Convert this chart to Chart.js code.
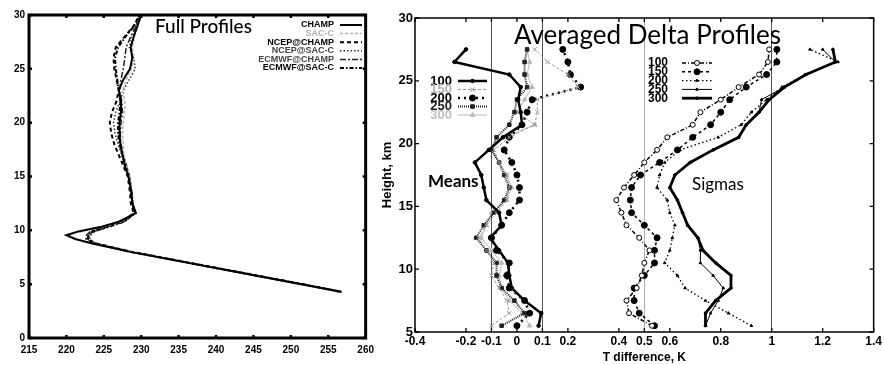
<!DOCTYPE html>
<html>
<head>
<meta charset="utf-8">
<script src="https://cdn.jsdelivr.net/npm/chart.js@4.4.0/dist/chart.umd.min.js"></script>
<style>
  html, body { margin: 0; padding: 0; background: #fff; }
  #wrap { position: relative; width: 884px; height: 365px; }
  #left { position: absolute; left: 0; top: 0; }
  #right { position: absolute; left: 380px; top: 0; }
</style>
</head>
<body>
<div id="wrap">
  <canvas id="left" width="380" height="365" style="width:380px;height:365px"></canvas>
  <canvas id="right" width="504" height="365" style="width:504px;height:365px"></canvas>
</div>
<script>
// ---- left panel: full temperature profiles (K) vs height (km)
const profileNames = ['CHAMP', 'SAC-C', 'NCEP@CHAMP', 'NCEP@SAC-C', 'ECMWF@CHAMP', 'ECMWF@SAC-C'];
const hFull = [4.3, 5, 6, 7, 8, 8.8, 9.2, 9.55, 9.9, 10.3, 10.8, 11.6, 12.5, 13.5, 15, 16, 17, 18, 19, 20, 21, 22, 23, 24, 25, 26, 27, 28, 29, 30];
const tChamp = [256.8, 251.4, 243.8, 236.1, 228.5, 223.3, 221.2, 220, 221.6, 224.5, 227, 229.3, 228.8, 228.7, 228.3, 227.8, 227.5, 227.2, 227.1, 227.1, 227.3, 227.3, 227.0, 227.6, 228.5, 228.8, 228.6, 229, 229.5, 230];
const tSacc = [256.5, 251.2, 243.6, 236.0, 228.4, 223.4, 221.0, 220.2, 222, 224.8, 227.3, 229.2, 228.9, 228.8, 228.5, 228, 227.7, 227.6, 227.5, 227.6, 227.8, 227.8, 227.5, 228.0, 228.7, 229.0, 228.8, 229.1, 229.6, 230];
const tNcepChamp = [256.6, 251.6, 244.0, 236.4, 228.8, 223.8, 222.8, 223.0, 223.5, 225.3, 227.5, 229, 228.6, 228.5, 228.2, 227.6, 227.0, 226.4, 226.0, 225.8, 226.1, 226.7, 227.0, 226.7, 226.4, 226.3, 226.6, 227.8, 229, 229.8];
const tNcepSacc = [256.4, 251.5, 243.9, 236.3, 228.7, 223.9, 223.1, 223.3, 223.8, 225.6, 227.8, 229.2, 228.8, 228.6, 228.3, 227.9, 227.4, 226.9, 226.5, 226.3, 226.6, 227.2, 227.6, 228.4, 229.2, 229.0, 228.4, 228.8, 229.4, 229.9];
const tEcChamp = [256.7, 251.5, 243.9, 236.2, 228.6, 223.6, 222.6, 222.7, 223.2, 225.2, 227.6, 229.1, 228.8, 228.8, 228.4, 228, 227.6, 227.3, 227.2, 227.3, 227.5, 227.4, 227.1, 227.3, 227.6, 227.8, 228, 228.6, 229.3, 229.9];
const tEcSacc = [256.5, 251.4, 243.8, 236.2, 228.6, 223.7, 222.9, 223.0, 223.5, 225.5, 227.7, 229.2, 228.9, 228.7, 228.4, 228, 227.5, 227.1, 226.9, 226.9, 227.1, 227.2, 227.0, 226.8, 226.6, 226.5, 226.9, 227.9, 229.1, 229.8];

// ---- right panel: averaged delta profiles (K) vs height (km)
const binLabels = ['100', '150', '200', '250', '300'];
const hDelta = [5.5, 6.5, 7.5, 8.5, 9.5, 10.5, 11.5, 12.5, 13.5, 14.5, 15.5, 16.5, 17.5, 18.5, 19.5, 20.5, 21.5, 22.5, 23.5, 24.5, 25.5, 26.5, 27.5];
const mean100 = [0.085, 0.095, 0.03, -0.02, -0.03, -0.035, -0.07, -0.105, -0.06, -0.07, -0.12, -0.13, -0.14, -0.165, -0.11, -0.055, 0.02, 0.015, 0.005, 0.015, -0.03, -0.245, -0.2];
const mean150 = [-0.1, -0.03, -0.04, -0.07, -0.1, -0.09, -0.12, -0.15, -0.12, -0.08, -0.04, -0.03, -0.04, -0.07, -0.09, -0.03, 0.07, 0.08, 0.08, 0.24, 0.2, 0.12, 0.07];
const mean200 = [0.0, 0.05, 0.03, -0.03, -0.04, -0.03, -0.08, -0.1, -0.06, -0.03, 0.01, 0.01, 0.0, -0.02, -0.05, -0.03, 0.02, 0.04, 0.06, 0.25, 0.21, 0.2, 0.18];
const mean250 = [-0.06, 0.03, -0.01, -0.06, -0.08, -0.08, -0.12, -0.16, -0.13, -0.09, -0.05, -0.03, -0.05, -0.07, -0.1, -0.08, -0.03, -0.01, 0.0, 0.04, 0.03, 0.03, 0.04];
const mean300 = [0.05, 0.02, -0.03, -0.06, -0.07, -0.06, -0.1, -0.14, -0.12, -0.1, -0.04, -0.02, -0.04, -0.07, -0.1, -0.05, 0.07, 0.0, 0.03, 0.06, 0.04, 0.05, 0.04];
const sig100 = [0.53, 0.44, 0.43, 0.47, 0.49, 0.5, 0.52, 0.48, 0.43, 0.41, 0.39, 0.42, 0.46, 0.5, 0.55, 0.59, 0.69, 0.72, 0.8, 0.87, 0.95, 0.985, 0.99];
const sig150 = [0.54, 0.48, 0.46, 0.46, 0.5, 0.54, 0.54, 0.55, 0.5, 0.45, 0.445, 0.45, 0.485, 0.56, 0.63, 0.69, 0.76, 0.8, 0.835, 0.9, 0.98, 1.02, 1.02];
const sig200 = [0.92, 0.83, 0.74, 0.66, 0.63, 0.58, 0.6, 0.61, 0.62, 0.6, 0.59, 0.55, 0.56, 0.58, 0.64, 0.79, 0.88, 0.92, 0.98, 1.04, 1.13, 1.26, 1.15];
const sig250 = [0.74, 0.76, 0.79, 0.81, 0.77, 0.72, 0.72, 0.71, 0.67, 0.65, 0.63, 0.6, 0.62, 0.68, 0.77, 0.87, 0.9, 0.95, 0.96, 1.05, 1.13, 1.25, 1.2];
const sig300 = [0.74, 0.74, 0.78, 0.84, 0.84, 0.78, 0.73, 0.71, 0.67, 0.65, 0.63, 0.6, 0.62, 0.68, 0.77, 0.87, 0.9, 0.95, 0.99, 1.05, 1.135, 1.25, 1.24];
const xTicksDelta = [-0.4, -0.2, -0.1, 0, 0.1, 0.2, 0.4, 0.5, 0.6, 0.8, 1, 1.2, 1.4];
const refLines = [-0.1, 0.1, 0.5, 1];

const toPoints = (xs, hs) => xs.map((x, i) => ({ x: x, y: hs[i] }));

// frame + inward tick marks, like the printed figure
const frameTicks = {
  id: 'frameTicks',
  afterDatasetsDraw(chart, args, opts) {
    const { ctx, chartArea: a, scales } = chart;
    ctx.save();
    ctx.strokeStyle = '#000';
    ctx.lineWidth = opts.tickWidth || 1.5;
    const len = opts.tickLen || 4;
    scales.x.ticks.forEach(t => {
      const px = scales.x.getPixelForValue(t.value);
      ctx.beginPath();
      ctx.moveTo(px, a.bottom); ctx.lineTo(px, a.bottom - len);
      ctx.moveTo(px, a.top); ctx.lineTo(px, a.top + len);
      ctx.stroke();
    });
    scales.y.ticks.forEach(t => {
      const py = scales.y.getPixelForValue(t.value);
      ctx.beginPath();
      ctx.moveTo(a.left, py); ctx.lineTo(a.left + len, py);
      ctx.moveTo(a.right, py); ctx.lineTo(a.right - len, py);
      ctx.stroke();
    });
    ctx.lineWidth = opts.frameWidth || 1.5;
    ctx.strokeRect(a.left, a.top, a.right - a.left, a.bottom - a.top);
    ctx.restore();
  }
};

// free text labels inside the plot
const freeText = {
  id: 'freeText',
  afterDraw(chart, args, opts) {
    const ctx = chart.ctx;
    (opts.items || []).forEach(it => {
      ctx.save();
      ctx.font = it.font;
      ctx.fillStyle = it.color || '#000';
      ctx.textAlign = it.align || 'left';
      ctx.textBaseline = 'middle';
      ctx.fillText(it.text, it.x, it.y);
      ctx.restore();
    });
  }
};

// legend with text on the left and the line sample on the right
const sideLegend = {
  id: 'sideLegend',
  afterDraw(chart, args, opts) {
    const ctx = chart.ctx;
    (opts.groups || []).forEach(g => {
      g.items.forEach((idx, row) => {
        const ds = chart.data.datasets[idx];
        const y = g.y + row * g.dy;
        ctx.save();
        ctx.font = g.font;
        ctx.fillStyle = ds.labelColor || ds.borderColor;
        ctx.textAlign = 'right';
        ctx.textBaseline = 'middle';
        ctx.fillText(ds.label, g.textRight, y);
        ctx.strokeStyle = ds.borderColor;
        ctx.lineWidth = ds.borderWidth;
        ctx.setLineDash(ds.borderDash || []);
        ctx.beginPath();
        ctx.moveTo(g.x0, y); ctx.lineTo(g.x1, y);
        ctx.stroke();
        ctx.setLineDash([]);
        if (ds.pointRadius) {
          ctx.fillStyle = ds.pointBackgroundColor || ds.borderColor;
          ctx.strokeStyle = ds.pointBorderColor || ds.borderColor;
          ctx.lineWidth = 1;
          Chart.helpers.drawPoint(ctx, { pointStyle: ds.pointStyle, radius: ds.pointRadius, rotation: 0, borderWidth: 1 }, (g.x0 + g.x1) / 2, y);
        }
        ctx.restore();
      });
    });
  }
};

const tickFontL = { family: 'Liberation Sans Narrow, Liberation Sans, Arial', size: 10, weight: 'bold' };

new Chart(document.getElementById('left'), {
  type: 'scatter',
  data: {
    datasets: [
      { label: profileNames[0], data: toPoints(tChamp, hFull), borderColor: '#000', borderWidth: 2 },
      { label: profileNames[1], data: toPoints(tSacc, hFull), borderColor: '#b5b5b5', borderWidth: 1.5, borderDash: [3, 2], labelColor: '#b0b0b0' },
      { label: profileNames[2], data: toPoints(tNcepChamp, hFull), borderColor: '#000', borderWidth: 2, borderDash: [4, 3] },
      { label: profileNames[3], data: toPoints(tNcepSacc, hFull), borderColor: '#333', borderWidth: 1.5, borderDash: [1.5, 2], labelColor: '#444' },
      { label: profileNames[4], data: toPoints(tEcChamp, hFull), borderColor: '#222', borderWidth: 1.5, borderDash: [6, 2, 2, 2], labelColor: '#444' },
      { label: profileNames[5], data: toPoints(tEcSacc, hFull), borderColor: '#000', borderWidth: 2, borderDash: [4, 2, 1.5, 2] }
    ].map(d => ({ ...d, showLine: true, pointRadius: 0, fill: false, tension: 0 }))
  },
  options: {
    responsive: false,
    animation: false,
    devicePixelRatio: 1,
    layout: { padding: { top: 15, right: 11, left: 0, bottom: 0 } },
    scales: {
      x: {
        type: 'linear', min: 215, max: 260,
        ticks: { stepSize: 5, color: '#000', font: tickFontL, padding: 6 },
        grid: { display: false, drawTicks: false }, border: { display: false },
        afterFit: s => { s.height = 27; }
      },
      y: {
        type: 'linear', min: 0, max: 30,
        ticks: { stepSize: 5, color: '#000', font: tickFontL, padding: 4 },
        grid: { display: false, drawTicks: false }, border: { display: false },
        afterFit: s => { s.width = 29; }
      }
    },
    plugins: {
      legend: { display: false },
      tooltip: { enabled: false },
      frameTicks: { frameWidth: 3, tickWidth: 2.5, tickLen: 3 },
      freeText: { items: [
        { text: 'Full Profiles', x: 155, y: 27, font: '500 19px Lato, "Open Sans", sans-serif' }
      ] },
      sideLegend: { groups: [
        { items: [0, 1, 2, 3, 4, 5], y: 25, dy: 8.6, textRight: 334, x0: 340, x1: 362,
          font: 'bold 9px "Liberation Sans Narrow", "Liberation Sans", Arial' }
      ] }
    }
  },
  plugins: [frameTicks, freeText, sideLegend]
});

const tickFontR = { family: 'Liberation Sans, Arial', size: 12, weight: 'bold' };
const meanStyles = [
  { borderColor: '#000', borderWidth: 2.5, pointStyle: 'circle', pointRadius: 1.8 },
  { borderColor: '#9a9a9a', borderWidth: 1, borderDash: [3, 2], pointStyle: 'crossRot', pointRadius: 3 },
  { borderColor: '#000', borderWidth: 2.5, borderDash: [2, 4], pointStyle: 'circle', pointRadius: 3 },
  { borderColor: '#222', borderWidth: 2, borderDash: [1, 1], pointStyle: 'rect', pointRadius: 2.5 },
  { borderColor: '#b8b8b8', borderWidth: 1, pointStyle: 'triangle', pointRadius: 2.5 }
];
const sigStyles = [
  { borderColor: '#000', borderWidth: 1.5, borderDash: [4, 2, 1, 2], pointStyle: 'circle', pointRadius: 2.5, pointBackgroundColor: '#fff' },
  { borderColor: '#000', borderWidth: 1.5, borderDash: [3, 3], pointStyle: 'circle', pointRadius: 3 },
  { borderColor: '#000', borderWidth: 1.3, borderDash: [1.5, 2.5], pointStyle: 'triangle', pointRadius: 1.5 },
  { borderColor: '#000', borderWidth: 1, pointStyle: 'triangle', pointRadius: 1.5 },
  { borderColor: '#000', borderWidth: 2.8, pointStyle: 'circle', pointRadius: 1.3 }
];
const meanSeries = [mean100, mean150, mean200, mean250, mean300];
const sigSeries = [sig100, sig150, sig200, sig250, sig300];

const deltaSets = [];
meanSeries.forEach((s, i) => deltaSets.push({ label: binLabels[i], data: toPoints(s, hDelta), ...meanStyles[i] }));
sigSeries.forEach((s, i) => deltaSets.push({ label: binLabels[i], data: toPoints(s, hDelta), ...sigStyles[i] }));
deltaSets.forEach(d => {
  d.showLine = true;
  d.fill = false;
  d.pointBorderColor = d.borderColor;
  if (!d.pointBackgroundColor) d.pointBackgroundColor = d.borderColor;
  d.pointBorderWidth = 1;
});
deltaSets[4].labelColor = '#c0c0c0';
deltaSets[1].labelColor = '#b0b0b0';

new Chart(document.getElementById('right'), {
  type: 'scatter',
  data: { datasets: deltaSets },
  options: {
    responsive: false,
    animation: false,
    devicePixelRatio: 1,
    layout: { padding: { top: 18, right: 6, left: 0, bottom: 0 } },
    scales: {
      x: {
        type: 'linear', min: -0.4, max: 1.4,
        afterBuildTicks: s => { s.ticks = xTicksDelta.map(v => ({ value: v })); },
        ticks: { autoSkip: false, maxRotation: 0, color: '#000', font: tickFontR, padding: 2,
          callback: v => String(Math.round(v * 10) / 10) },
        grid: {
          drawTicks: false,
          lineWidth: 1,
          color: c => refLines.includes(Math.round(c.tick.value * 10) / 10)
            ? (Math.round(c.tick.value * 10) === 5 ? '#b0b0b0' : '#555') : 'rgba(0,0,0,0)'
        },
        border: { display: false },
        title: { display: true, text: 'T difference, K', color: '#000', font: { family: 'Liberation Sans, Arial', size: 12, weight: 'bold' }, padding: 0 },
        afterFit: s => { s.height = 33; }
      },
      y: {
        type: 'linear', min: 5, max: 30,
        ticks: { stepSize: 5, color: '#000', font: { family: 'Liberation Sans, Arial', size: 13, weight: 'bold' }, padding: 2 },
        grid: { display: false, drawTicks: false }, border: { display: false },
        title: { display: true, text: 'Height, km', color: '#000', font: { family: 'Liberation Sans, Arial', size: 13, weight: 'bold' }, padding: 0 },
        afterFit: s => { s.width = 35; }
      }
    },
    plugins: {
      legend: { display: false },
      tooltip: { enabled: false },
      frameTicks: { frameWidth: 1.5, tickWidth: 1.3, tickLen: 4 },
      freeText: { items: [
        { text: 'Averaged Delta Profiles', x: 134, y: 36, font: '26px Lato, "Open Sans", sans-serif' },
        { text: 'Means', x: 48, y: 182, font: 'bold 17px Lato, "Open Sans", sans-serif' },
        { text: 'Sigmas', x: 312, y: 185, font: '17px Lato, "Open Sans", sans-serif' }
      ] },
      sideLegend: { groups: [
        { items: [0, 1, 2, 3, 4], y: 81, dy: 8.5, textRight: 72, x0: 78, x1: 107,
          font: 'bold 13px "Liberation Sans Narrow", "Liberation Sans", Arial' },
        { items: [5, 6, 7, 8, 9], y: 63, dy: 8.8, textRight: 288, x0: 302, x1: 332,
          font: 'bold 12px "Liberation Sans Narrow", "Liberation Sans", Arial' }
      ] }
    }
  },
  plugins: [frameTicks, freeText, sideLegend]
});
</script>
</body>
</html>
